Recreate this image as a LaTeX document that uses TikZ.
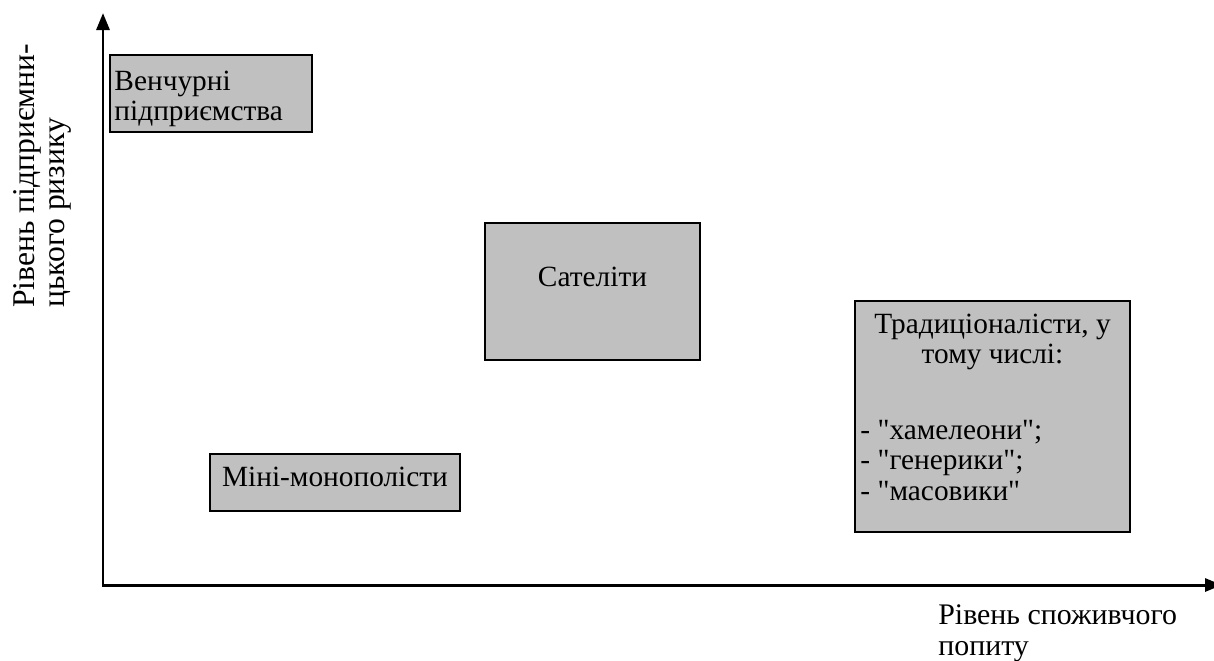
\documentclass[tikz,border=0pt]{standalone}
\usepackage{fontspec}
\setmainfont{Liberation Serif}
\usetikzlibrary{arrows.meta,positioning}
\definecolor{boxgray}{RGB}{192,192,192}

\tikzset{
  grbox/.style={draw,line width=1pt,fill=boxgray,inner sep=0pt},
  lbl/.style={inner sep=0pt,align=left},
  axis/.style={line width=1.7pt,<->}
}

\begin{document}
\begin{tikzpicture}[x=.2mm,y=-.2mm,font=\fontsize{16.7}{17}\selectfont,>={Triangle[length=3.4mm,width=2.6mm]}]
    \useasboundingbox (0,0) rectangle (1214,660);
    % axes
    \coordinate (ytop) at (103,13);
    \coordinate (xend) at (1222,585);
    \draw[axis] (ytop) |- (xend);
    \node[lbl,rotate=90,anchor=base west,font=\fontsize{18}{17}\selectfont] (ylab) at (64,308) {Рівень підприємни-\\цького ризику};
    \node[lbl,anchor=base west,font=\fontsize{17}{17.5}\selectfont] (xlab) at (938,655) {Рівень споживчого\\попиту};
    % groups
    \node[grbox,minimum width=40.4mm,minimum height=15.4mm] (ven) at (211,93.5) {};
    \node[grbox,minimum width=43mm,minimum height=27.4mm] (sat) at (592.5,291.5) {};
    \node[grbox,minimum width=55mm,minimum height=46.2mm] (trad) at (992.5,416.5) {};
    \node[grbox,minimum width=50mm,minimum height=11.4mm] (mini) at (335,482.5) {};
    \node[lbl,anchor=base west] (ventxt) at ([shift={(5,66)}]ven.north west) {Венчурні\\підприємства};
    \node[lbl,anchor=base] (sattxt) at ([shift={(0,64)}]sat.north) {Сателіти};
    \node[lbl,anchor=base,align=center] (tradtxt) at ([shift={(0,63)}]trad.north) {Традиціоналісти, у\\тому числі:};
    \node[lbl,anchor=base west,font=\fontsize{16.7}{17.3}\selectfont] (tradlist) at ([shift={(6,200)}]trad.north west)
      {- \textquotedbl хамелеони\textquotedbl;\\- \textquotedbl генерики\textquotedbl;\\- \textquotedbl масовики\textquotedbl};
    \node[lbl] (minitxt) at ([yshift=3pt]mini.center) {Міні-монополісти};
  \end{tikzpicture}
\end{document}
